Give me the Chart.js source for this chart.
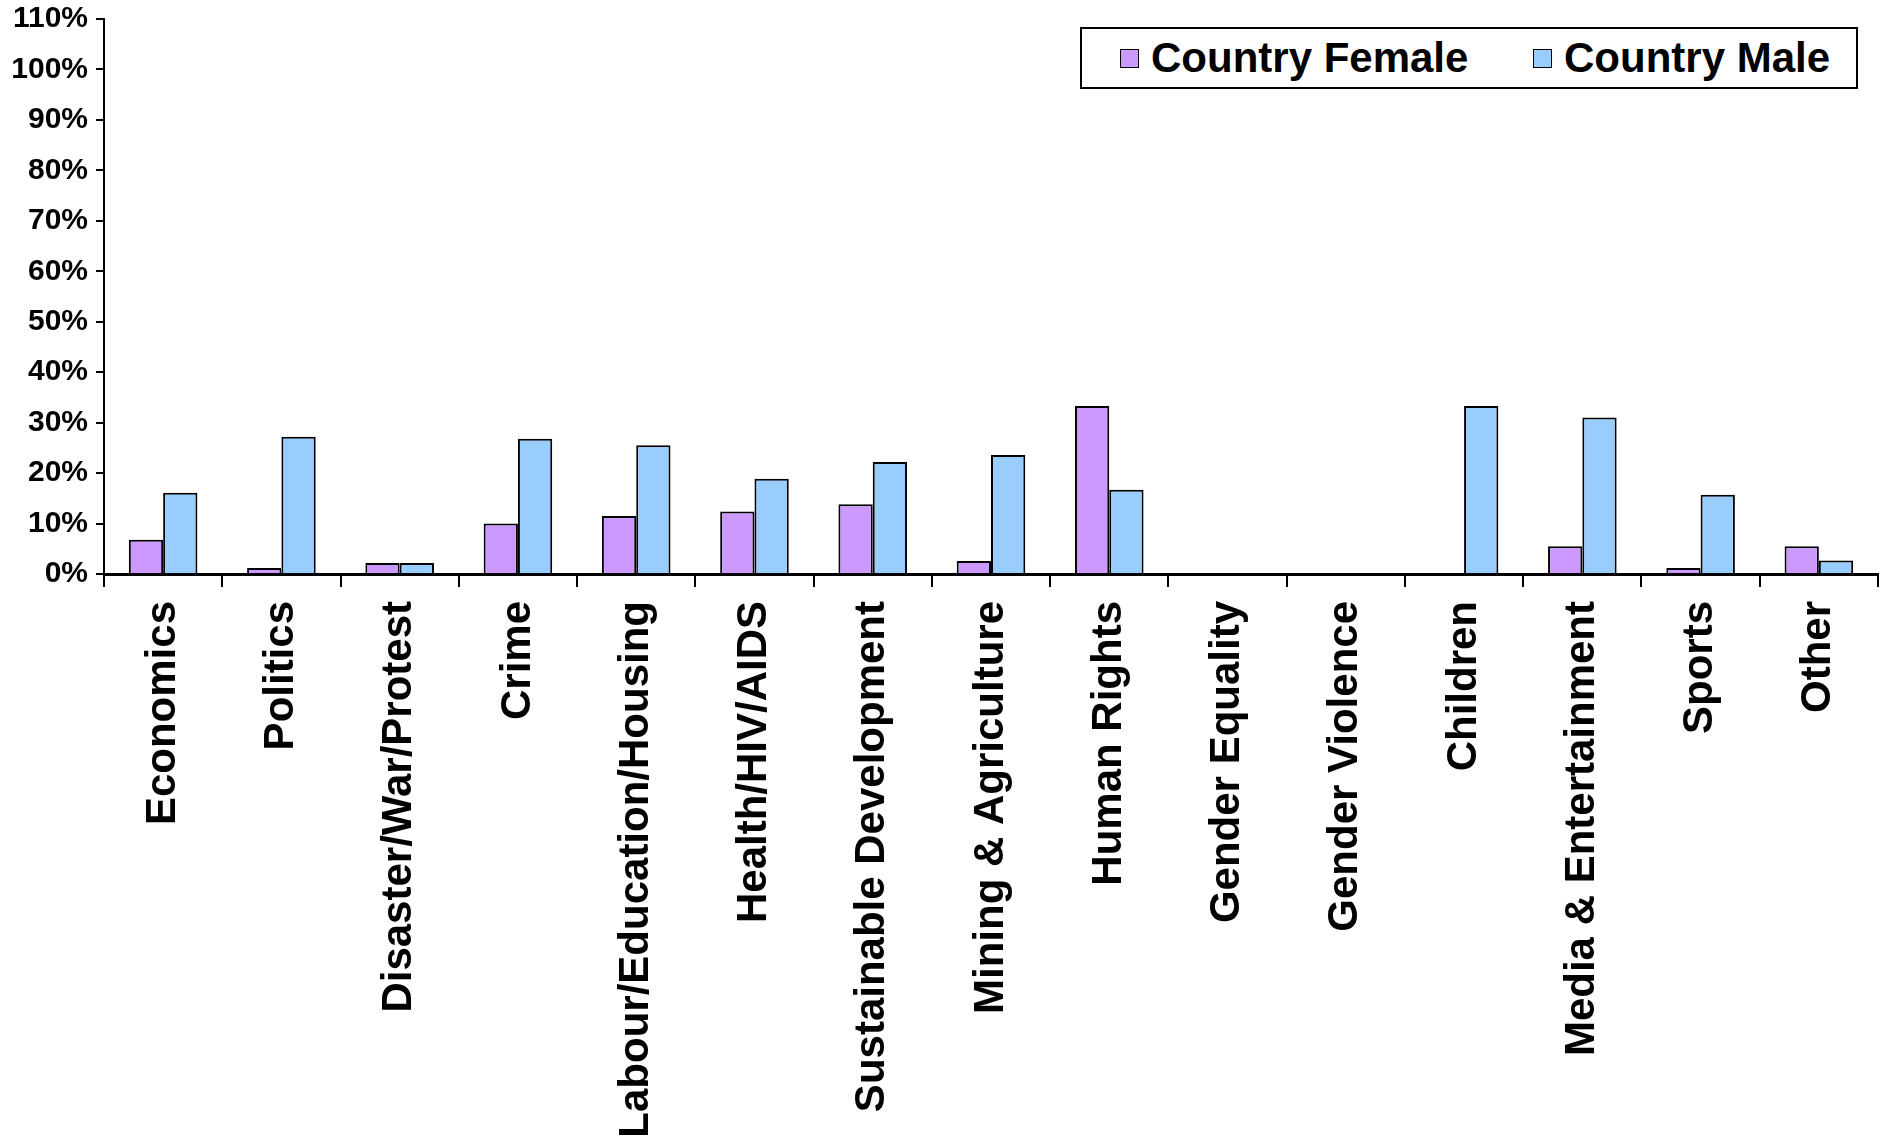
<!DOCTYPE html>
<html>
<head>
<meta charset="utf-8">
<script src="https://cdn.jsdelivr.net/npm/chart.js@4/dist/chart.umd.min.js"></script>
<style>
    html, body { margin: 0; padding: 0; background: #fff; }
    #wrap { position: relative; width: 1890px; height: 1140px; }
    #legend {
        position: absolute; left: 1080px; top: 27px;
        width: 774px; height: 58px;
        border: 2px solid #000; background: #fff;
        font: bold 42px "Liberation Sans", Arial, sans-serif;
    }
    #legend .item { position: absolute; top: 0; height: 58px; display: flex; align-items: center; white-space: nowrap; }
    #legend .box { width: 17px; height: 17px; border: 1.5px solid #000; margin-right: 12px; }
</style>
</head>
<body>
<div id="wrap">
    <canvas id="topicChart" width="1890" height="1140"></canvas>
    <div id="legend"></div>
</div>
<script>
// Catégories (sujets)
const categories = [
    "Economics", "Politics", "Disaster/War/Protest", "Crime",
    "Labour/Education/Housing", "Health/HIV/AIDS", "Sustainable Development",
    "Mining & Agriculture", "Human Rights", "Gender Equality", "Gender Violence",
    "Children", "Media & Entertainment", "Sports", "Other"
];

// Valeurs en %
const femaleValues = [6.8, 1.2, 2.2, 10.0, 11.5, 12.4, 13.8, 2.6, 33.3, 0, 0, 0, 5.5, 1.2, 5.5];
const maleValues = [16.1, 27.2, 2.2, 26.8, 25.5, 18.9, 22.2, 23.6, 16.7, 0, 0, 33.3, 31.0, 15.7, 2.7];

const seriesNames = ["Country Female", "Country Male"];
const seriesColors = ["#CC99FF", "#99CCFF"];

const yMax = 110;
const yStep = 10;

const FONT = "'Liberation Sans', Arial, sans-serif";

const datasets = [femaleValues, maleValues].map((vals, i) => ({
    label: seriesNames[i],
    data: vals,
    backgroundColor: seriesColors[i],
    borderColor: "#000",
    borderWidth: 2,
    borderSkipped: "bottom",
    categoryPercentage: 0.58,
    barPercentage: 1.0
}));

new Chart(document.getElementById("topicChart"), {
    type: "bar",
    data: { labels: categories, datasets },
    options: {
        responsive: false,
        animation: false,
        devicePixelRatio: 1,
        layout: { padding: { left: 0, right: 12, top: 0, bottom: 0 } },
        scales: {
            x: {
                afterFit: s => { s.height = 566; },
                grid: {
                    display: true,
                    drawOnChartArea: false,
                    color: "#000",
                    lineWidth: 2,
                    tickLength: 13,
                    offset: true
                },
                border: { color: "#000", width: 3 },
                ticks: {
                    color: "#000",
                    font: { family: FONT, size: 42, weight: "bold" },
                    minRotation: 90,
                    maxRotation: 90,
                    autoSkip: false,
                    padding: 14
                }
            },
            y: {
                min: 0,
                max: yMax,
                afterFit: s => { s.width = 104; s.paddingTop = 19; },
                grid: {
                    display: true,
                    drawOnChartArea: false,
                    color: "#000",
                    lineWidth: 2,
                    tickLength: 8
                },
                border: { color: "#000", width: 2 },
                ticks: {
                    stepSize: yStep,
                    color: "#000",
                    padding: 8,
                    font: { family: FONT, size: 30, weight: "bold" },
                    callback: v => v + "%"
                }
            }
        },
        plugins: {
            legend: { display: false },
            tooltip: { enabled: false }
        }
    }
});

// Légende HTML (boîte en haut à droite)
const legendEl = document.getElementById("legend");
const itemLeft = [38, 451];
seriesNames.forEach((name, i) => {
    const item = document.createElement("div");
    item.className = "item";
    item.style.left = itemLeft[i] + "px";
    const box = document.createElement("span");
    box.className = "box";
    box.style.background = seriesColors[i];
    const txt = document.createElement("span");
    txt.textContent = name;
    item.appendChild(box);
    item.appendChild(txt);
    legendEl.appendChild(item);
});
</script>
</body>
</html>
